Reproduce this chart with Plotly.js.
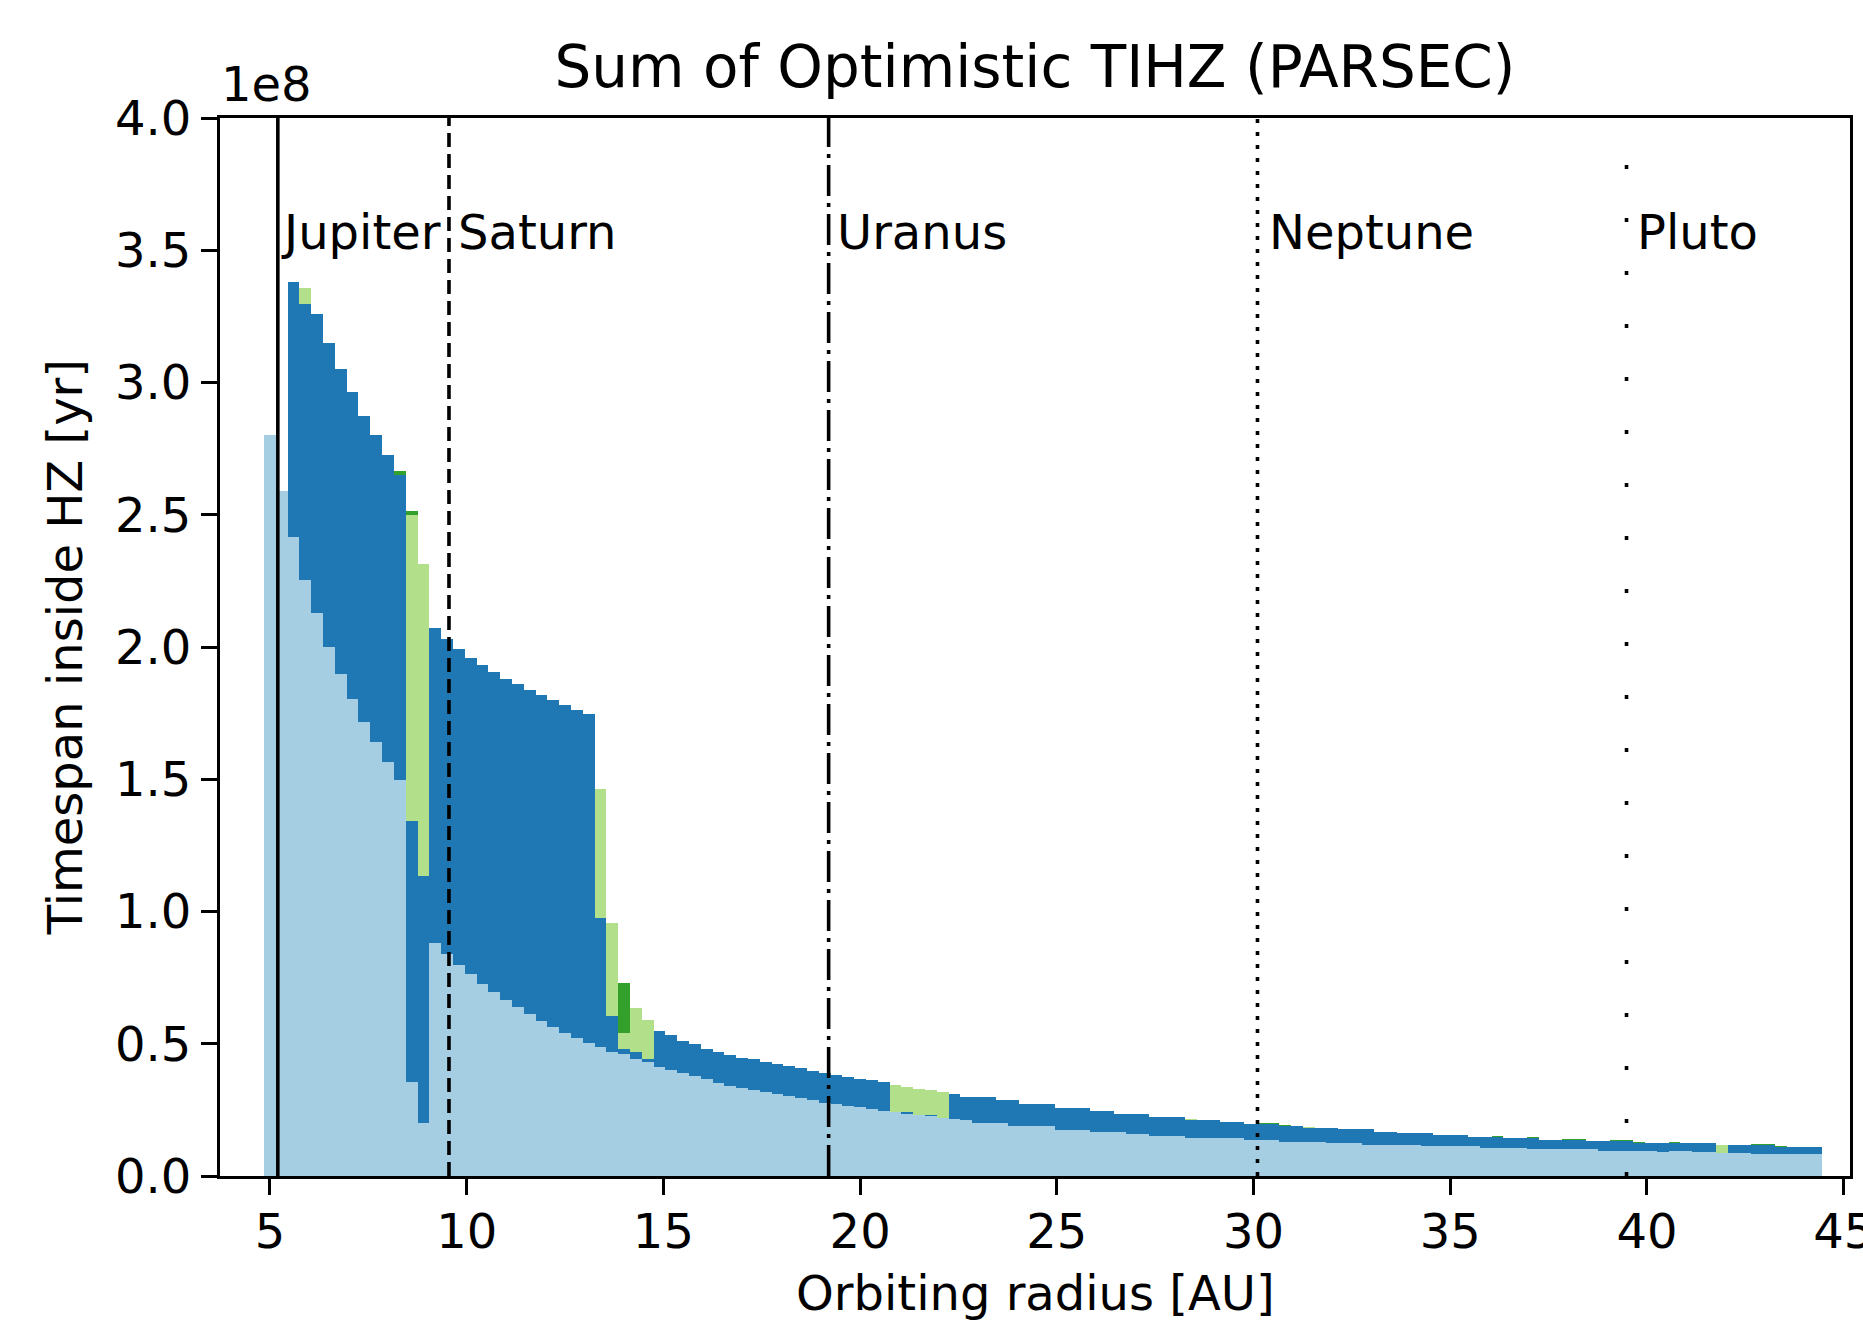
<!DOCTYPE html>
<html>
<head>
<meta charset="utf-8">
<script src="https://cdn.plot.ly/plotly-3.0.1.min.js"></script>
<style>html,body{margin:0;padding:0;background:#fff;}#chart{width:1863px;height:1321px;}</style>
</head>
<body>
<div id="chart"></div>
<script>
// Orbiting radius (bar centres, AU)
const radius = [5.0,5.3,5.6,5.9,6.2,6.5,6.8,7.1,7.4,7.7,
8.0,8.3,8.6,8.9,9.2,9.5,9.8,10.1,10.4,10.7,
11.0,11.3,11.6,11.9,12.2,12.5,12.8,13.1,13.4,13.7,
14.0,14.3,14.6,14.9,15.2,15.5,15.8,16.1,16.4,16.7,
17.0,17.3,17.6,17.9,18.2,18.5,18.8,19.1,19.4,19.7,
20.0,20.3,20.6,20.9,21.2,21.5,21.8,22.1,22.4,22.7,
23.0,23.3,23.6,23.9,24.2,24.5,24.8,25.1,25.4,25.7,
26.0,26.3,26.6,26.9,27.2,27.5,27.8,28.1,28.4,28.7,
29.0,29.3,29.6,29.9,30.2,30.5,30.8,31.1,31.4,31.7,
32.0,32.3,32.6,32.9,33.2,33.5,33.8,34.1,34.4,34.7,
35.0,35.3,35.6,35.9,36.2,36.5,36.8,37.1,37.4,37.7,
38.0,38.3,38.6,38.9,39.2,39.5,39.8,40.1,40.4,40.7,
41.0,41.3,41.6,41.9,42.2,42.5,42.8,43.1,43.4,43.7,
44.0,44.3];

// Stacked timespans inside HZ, in units of 1e8 yr
const seriesLightBlue = [2.80,2.59,2.417,2.252,2.127,2.0,1.899,1.805,1.717,1.641,
1.565,1.497,0.357,0.199,0.882,0.838,0.798,0.762,0.727,0.695,
0.667,0.639,0.612,0.585,0.563,0.542,0.52,0.501,0.486,0.47,
0.461,0.441,0.432,0.413,0.40,0.39,0.378,0.365,0.353,0.341,
0.334,0.325,0.317,0.31,0.302,0.295,0.287,0.277,0.271,0.265,
0.26,0.253,0.247,0.241,0.236,0.23,0.225,0.22,0.214,0.21,
0.202,0.202,0.202,0.189,0.189,0.189,0.189,0.175,0.175,0.175,
0.168,0.168,0.168,0.159,0.159,0.152,0.152,0.152,0.145,0.145,
0.145,0.145,0.145,0.136,0.136,0.136,0.130,0.130,0.130,0.130,
0.123,0.123,0.123,0.117,0.117,0.117,0.117,0.117,0.112,0.112,
0.112,0.112,0.112,0.107,0.107,0.107,0.107,0.101,0.101,0.101,
0.101,0.101,0.101,0.096,0.096,0.096,0.096,0.096,0.091,0.093,
0.093,0.091,0.091,0.088,0.088,0.088,0.083,0.083,0.083,0.083,
0.083,0.083];

const seriesDarkBlue = [0,0,0.963,1.043,1.133,1.15,1.151,1.158,1.158,1.159,
1.162,1.155,0.986,0.935,1.188,1.194,1.196,1.198,1.204,1.211,
1.213,1.22,1.224,1.232,1.236,1.238,1.243,1.245,0.49,0.136,
0.018,0.029,0.01,0.135,0.133,0.12,0.121,0.115,0.117,0.116,
0.114,0.116,0.115,0.113,0.114,0.112,0.111,0.111,0.109,0.109,
0.108,0.109,0.108,0,0.005,0,0.005,0,0.095,0.09,
0.098,0.098,0.086,0.099,0.083,0.083,0.083,0.082,0.082,0.082,
0.077,0.077,0.067,0.076,0.076,0.071,0.071,0.071,0.067,0.067,
0.067,0.058,0.058,0.06,0.06,0.06,0.059,0.059,0.053,0.053,
0.06,0.054,0.054,0.06,0.051,0.051,0.044,0.044,0.049,0.043,
0.043,0.043,0.037,0.042,0.042,0.035,0.035,0.041,0.035,0.035,
0.035,0.035,0.03,0.035,0.035,0.035,0.03,0.03,0.035,0.033,
0.03,0.032,0.032,0,0.029,0.029,0.034,0.034,0.028,0.028,
0.028,0.028];

const seriesLightGreen = [0,0,0,0.063,0,0,0,0,0,0,
0,0,1.155,1.181,0,0,0,0,0,0,
0,0,0,0,0,0,0,0,0.489,0.351,
0.063,0.166,0.148,0,0,0,0,0,0,0,
0,0,0,0,0,0,0,0,0,0,
0,0,0,0.103,0.097,0.10,0.095,0.099,0,0,
0,0,0,0,0,0,0,0,0,0,
0,0,0,0,0,0,0,0,0.004,0,
0,0,0,0,0,0,0,0,0.004,0,
0,0,0,0,0,0,0,0,0,0,
0,0,0,0,0,0,0,0,0,0,
0,0,0,0,0,0,0,0,0,0,
0,0,0,0.029,0,0,0,0,0,0,
0,0];

const seriesGreen = [0,0,0,0,0,0,0,0,0,0,
0,0.012,0.015,0,0,0,0,0,0,0,
0,0,0,0,0,0,0,0,0,0,
0.186,0,0,0,0,0,0,0,0,0,
0,0,0,0,0,0,0,0,0,0,
0,0,0,0,0,0,0,0,0,0,
0,0,0,0,0,0,0,0,0,0,
0,0,0,0,0,0,0,0,0,0,
0,0,0,0,0.004,0.004,0.004,0,0,0,
0,0,0,0,0,0,0,0,0,0,
0,0,0,0,0.004,0,0,0.004,0,0,
0.004,0.004,0,0,0.004,0.004,0.004,0,0,0.004,
0,0,0,0,0,0,0.004,0.004,0.004,0,
0,0];

// Planet orbits
const planetNames = ["Jupiter","Saturn","Uranus","Neptune","Pluto"];
const planetRadius = [5.2,9.55,19.2,30.1,39.48];
const planetDash = ["solid","14px,7px","31px,7px,4px,7px","4px,9px","4px,49px"];
const planetShift = [1,7,6,10,8];

const xTicks = [5,10,15,20,25,30,35,40,45];
const yTicks = [0,0.5,1,1.5,2,2.5,3,3.5,4];

const FONT = "DejaVu Sans, Liberation Sans, sans-serif";
const colors = ["#a6cee3","#1f78b4","#b2df8a","#33a02c"];
const allSeries = [seriesLightBlue, seriesDarkBlue, seriesLightGreen, seriesGreen];

const traces = allSeries.map((s, k) => ({
  type: "bar",
  x: radius,
  y: s,
  width: 0.3,
  marker: {color: colors[k], line: {width: 0}},
  hoverinfo: "skip",
  showlegend: false
}));

const shapes = planetRadius.map((r, k) => ({
  type: "line", xref: "x", yref: "paper",
  x0: r, x1: r, y0: 0, y1: 1,
  line: {color: "black", width: 3.6, dash: planetDash[k]},
  layer: "above"
}));

const annotations = planetNames.map((n, k) => ({
  x: planetRadius[k], y: 3.57, xref: "x", yref: "y",
  text: n, showarrow: false, xanchor: "left", yanchor: "middle",
  xshift: planetShift[k],
  font: {family: FONT, size: 48, color: "black"}
}));

annotations.push({
  x: 0, y: 1, xref: "paper", yref: "paper",
  text: "1e8", showarrow: false, xanchor: "left", yanchor: "bottom",
  xshift: -1, yshift: 4,
  font: {family: FONT, size: 48, color: "black"}
});
annotations.push({
  x: 0.5, y: -0.1143, xref: "paper", yref: "paper",
  text: "Orbiting radius [AU]", showarrow: false, xanchor: "center", yanchor: "middle",
  yshift: 4,
  font: {family: FONT, size: 48, color: "black"}
});
annotations.push({
  x: -0.095, y: 0.5, xref: "paper", yref: "paper",
  text: "Timespan inside HZ [yr]", showarrow: false, textangle: -90,
  xanchor: "center", yanchor: "middle",
  font: {family: FONT, size: 48, color: "black"}
});

const layout = {
  width: 1863, height: 1321,
  margin: {l: 220, r: 13, t: 118, b: 145, pad: 0},
  paper_bgcolor: "white", plot_bgcolor: "white",
  barmode: "stack", bargap: 0,
  font: {family: FONT, size: 48, color: "black"},
  title: {
    text: "Sum of Optimistic TIHZ (PARSEC)",
    font: {family: FONT, size: 58, color: "black"},
    x: 0.5, xref: "paper", y: 0.9495, yref: "container", yanchor: "middle"
  },
  xaxis: {
    range: [3.73, 45.16], tickvals: xTicks, ticktext: xTicks.map(String),
    ticks: "outside", ticklen: 16, tickwidth: 3, tickcolor: "black",
    showline: true, linewidth: 3, linecolor: "black", mirror: true,
    showgrid: false, zeroline: false, ticklabeloverflow: "allow",
    ticklabelstandoff: -5,
    tickfont: {family: FONT, size: 48, color: "black"}
  },
  yaxis: {
    range: [0, 4], tickvals: yTicks, ticktext: yTicks.map(v => v.toFixed(1)),
    ticks: "outside", ticklen: 16, tickwidth: 3, tickcolor: "black",
    showline: true, linewidth: 3, linecolor: "black", mirror: true,
    showgrid: false, zeroline: false,
    tickfont: {family: FONT, size: 48, color: "black"}
  },
  shapes: shapes,
  annotations: annotations
};

Plotly.newPlot("chart", traces, layout, {staticPlot: true, displayModeBar: false});
</script>
</body>
</html>
